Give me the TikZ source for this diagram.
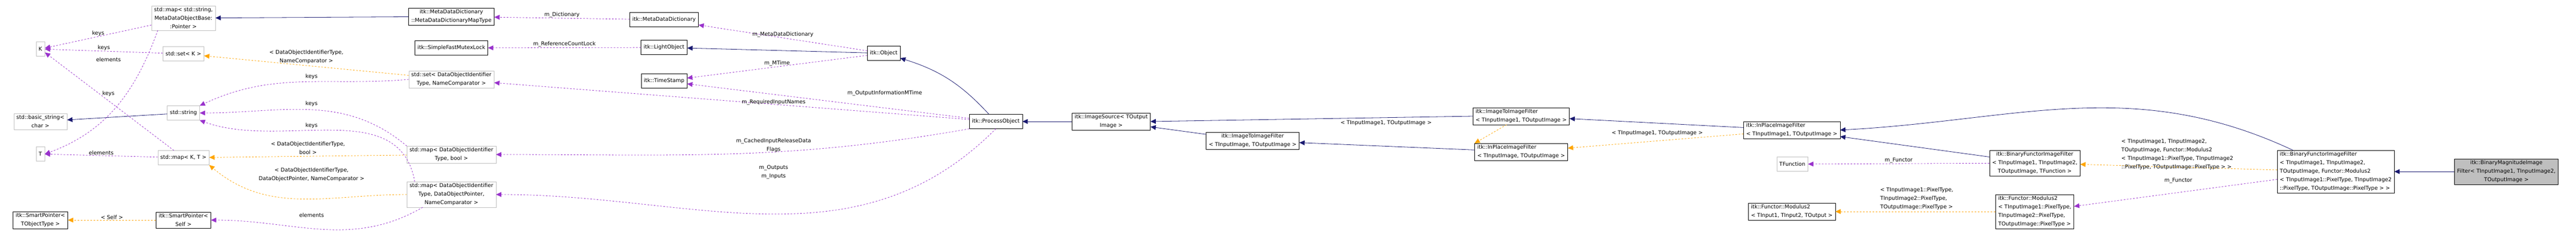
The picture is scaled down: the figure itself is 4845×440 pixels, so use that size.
\documentclass[tikz,border=0pt]{standalone}
\usepackage{fontspec}
\setmainfont{DejaVu Sans}
\usetikzlibrary{arrows.meta}

\definecolor{inhblue}{RGB}{25,25,112}
\definecolor{usepurple}{RGB}{153,50,204}
\definecolor{tplorange}{RGB}{255,165,0}
\definecolor{boxgray}{RGB}{191,191,191}

\tikzset{
  cls/.style={draw=black, fill=white, align=center, inner xsep=5pt, inner ysep=3pt, minimum height=27pt, font=\fontsize{10}{16}\selectfont},
  ext/.style={cls, draw=boxgray},
  inh/.style={draw=inhblue, thick, -{Triangle[length=10pt,width=9pt]}},
  use/.style={draw=usepurple, thick, dashed, -{Triangle[length=10pt,width=9pt]}},
  tpl/.style={draw=tplorange, thick, dashed, -{Triangle[length=10pt,width=9pt]}},
  lbl/.style={align=center, font=\fontsize{10}{16}\selectfont, inner sep=1pt}
}

\begin{document}
\begin{tikzpicture}[x=1pt,y=-1pt]
    \useasboundingbox (0,0) rectangle (4845,440);

    % left column
    \node[ext] (K) at (76,92) {K};
    \node[ext] (basicstr) at (76,228) {std::basic\_string<\\char >};
    \node[ext] (T) at (76,289) {T};
    \node[cls] (spTObj) at (76,413) {itk::SmartPointer<\\TObjectType >};
    \node[ext] (mapstr) at (345,34) {std::map< std::string,\\MetaDataObjectBase:\\:Pointer >};
    \node[ext] (setK) at (345,101) {std::set< K >};
    \node[ext] (string) at (345,212) {std::string};
    \node[ext] (mapKT) at (345,296) {std::map< K, T >};
    \node[cls] (spSelf) at (345,413) {itk::SmartPointer<\\Self >};

    % members
    \node[cls] (mddmap) at (849,31) {itk::MetaDataDictionary\\::MetaDataDictionaryMapType};
    \node[cls] (mutex) at (849,90) {itk::SimpleFastMutexLock};
    \node[ext] (setDOI) at (849,149) {std::set< DataObjectIdentifier\\Type, NameComparator >};
    \node[ext] (mapbool) at (849,290) {std::map< DataObjectIdentifier\\Type, bool >};
    \node[ext] (mapptr) at (849,365) {std::map< DataObjectIdentifier\\Type, DataObjectPointer,\\NameComparator >};
    \node[cls] (mdd) at (1249,37) {itk::MetaDataDictionary};
    \node[cls] (light) at (1249,89) {itk::LightObject};
    \node[cls] (stamp) at (1249,152) {itk::TimeStamp};
    \node[cls] (object) at (1662,100) {itk::Object};
    \node[cls] (process) at (1873,228) {itk::ProcessObject};

    % filter chain
    \node[cls] (source) at (2090,228) {itk::ImageSource< TOutput\\Image >};
    \node[cls] (itoiT) at (2356,264) {itk::ImageToImageFilter\\< TInputImage, TOutputImage >};
    \node[cls, align=left] (itoi1) at (2861,218) {itk::ImageToImageFilter\\< TInputImage1, TOutputImage >};
    \node[cls, align=left] (inplT) at (2861,285) {itk::InPlaceImageFilter\\< TInputImage, TOutputImage >};
    \node[cls, align=left] (inpl1) at (3370,244) {itk::InPlaceImageFilter\\< TInputImage1, TOutputImage >};
    \node[ext] (tfunc) at (3371,308) {TFunction};
    \node[cls, align=left] (modT) at (3370,397) {itk::Functor::Modulus2\\< TInput1, TInput2, TOutput >};
    \node[cls] (bfifT) at (3827,306) {itk::BinaryFunctorImageFilter\\< TInputImage1, TInputImage2,\\TOutputImage, TFunction >};
    \node[cls, align=left] (modpx) at (3827,397) {itk::Functor::Modulus2\\< TInputImage1::PixelType,\\ TInputImage2::PixelType,\\ TOutputImage::PixelType >};
    \node[cls, align=left] (bfifM) at (4393,322) {itk::BinaryFunctorImageFilter\\< TInputImage1, TInputImage2,\\ TOutputImage, Functor::Modulus2\\< TInputImage1::PixelType, TInputImage2\\::PixelType, TOutputImage::PixelType > >};
    \node[cls, fill=boxgray] (bmif) at (4714,322) {itk::BinaryMagnitudeImage\\Filter< TInputImage1, TInputImage2,\\TOutputImage >};

    % inheritance
    \draw[inh] (string) -- (basicstr);
    \draw[inh] (mddmap) -- (mapstr);
    \draw[inh] (object) -- (light);
    \draw[inh] (process) to[bend right=15] (object);
    \draw[inh] (source) -- (process);
    \draw[inh] (itoiT) -- (source);
    \draw[inh] (itoi1.west) -- (source.east);
    \draw[inh] (inplT) -- (itoiT);
    \draw[inh] (inpl1) -- (itoi1);
    \draw[inh] (bfifT) -- (inpl1);
    \draw[inh] (bfifM.north west) ++(30,0) to[out=155,in=3] (inpl1.east);
    \draw[inh] (bmif) -- (bfifM);

    % templates
    \draw[tpl] (setDOI) -- (setK) node[lbl, pos=0.5, above=2pt] (lblsetK) {< DataObjectIdentifierType,\\NameComparator >};
    \draw[tpl] (mapbool) -- (mapKT) node[lbl, pos=0.5, above=2pt] (lblbool) {< DataObjectIdentifierType,\\bool >};
    \draw[tpl] (mapptr.west) to[out=180,in=-40] (mapKT.south east);
    \node[lbl] (lblptr) at (586,328) {< DataObjectIdentifierType,\\DataObjectPointer, NameComparator >};
    \draw[tpl] (spSelf) -- (spTObj) node[lbl, pos=0.5, above] (lblself) {< Self >};
    \draw[tpl] (itoi1) -- (inplT.north west);
    \node[lbl] (lblitoi) at (2607,231) {< TInputImage1, TOutputImage >};
    \draw[tpl] (inpl1) -- (inplT);
    \node[lbl] (lblinpl) at (3117,250) {< TInputImage1, TOutputImage >};
    \draw[tpl] (bfifM) -- (bfifT);
    \node[lbl, align=left] (lblbfif) at (4095,290) {< TInputImage1, TInputImage2,\\TOutputImage, Functor::Modulus2\\< TInputImage1::PixelType, TInputImage2\\::PixelType, TOutputImage::PixelType > >};
    \draw[tpl] (modpx) -- (modT);
    \node[lbl, align=left] (lblmod) at (3605,373) {< TInputImage1::PixelType,\\TInputImage2::PixelType,\\TOutputImage::PixelType >};

    % usage
    \draw[use] (mapstr) -- (K) node[lbl, pos=0.5, above] (lblk1) {keys};
    \draw[use] (setK) -- (K) node[lbl, pos=0.5, above] (lblk2) {keys};
    \draw[use] (mapKT) -- (K);
    \node[lbl] (lblk3) at (204,176) {keys};
    \draw[use] (mapstr.south west) ++(12,0) to[out=-110,in=20] (T.east);
    \node[lbl] (lblel1) at (204,112) {elements};
    \draw[use] (mapKT) -- (T) node[lbl, pos=0.5, above] (lblel2) {elements};
    \draw[use] (setDOI.west) to[out=185,in=25] (string.north east);
    \node[lbl] (lblk4) at (586,144) {keys};
    \draw[use] (mapbool.north west) to[out=140,in=0] (string.east);
    \node[lbl] (lblk5) at (586,195) {keys};
    \draw[use] (mapptr.north west) ++(15,0) to[out=100,in=-20] (string.south east);
    \node[lbl] (lblk6) at (586,236) {keys};
    \draw[use] (mapptr.south west) ++(30,0) to[out=-150,in=0] (spSelf.east);
    \node[lbl] (lblel3) at (586,404) {elements};
    \draw[use] (mdd) -- (mddmap) node[lbl, pos=0.5, above] (lbldict) {m\_Dictionary};
    \draw[use] (light) -- (mutex) node[lbl, pos=0.5, above] (lbllock) {m\_ReferenceCountLock};
    \draw[use] (object) -- (mdd) node[lbl, pos=0.5, above] (lblmdd) {m\_MetaDataDictionary};
    \draw[use] (object) -- (stamp) node[lbl, pos=0.5, above] (lblmtime) {m\_MTime};
    \draw[use] (process) -- (stamp);
    \node[lbl] (lbloutmt) at (1664,175) {m\_OutputInformationMTime};
    \draw[use] (process) -- (setDOI);
    \node[lbl] (lblreq) at (1455,192) {m\_RequiredInputNames};
    \draw[use] (process.south west) to[out=190,in=0] (mapbool.east);
    \node[lbl] (lblcache) at (1455,273) {m\_CachedInputReleaseData\\Flags};
    \draw[use] (process.south) to[out=-135,in=0] (mapptr.east);
    \node[lbl] (lblio) at (1455,323) {m\_Outputs\\m\_Inputs};
    \draw[use] (bfifT) -- (tfunc) node[lbl, pos=0.5, above] (lblfun1) {m\_Functor};
    \draw[use] (bfifM) -- (modpx);
    \node[lbl] (lblfun2) at (4097,339) {m\_Functor};
\end{tikzpicture}
\end{document}
